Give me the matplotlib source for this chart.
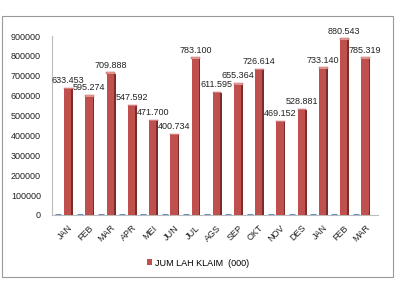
import matplotlib.pyplot as plt
from matplotlib.patches import Rectangle

# monthly claim totals (in thousands)
months = ['JAN', 'FEB', 'MAR', 'APR', 'MEI', 'JUN', 'JUL', 'AGS', 'SEP',
          'OKT', 'NOV', 'DES', 'JAN', 'FEB', 'MAR']
klaim = [633453, 595274, 709888, 547592, 471700, 400734, 783100, 611595,
         655364, 726614, 469152, 528881, 733140, 880543, 785319]
# second (empty) series that only shows as flat blue marks on the floor
kosong = [0] * len(months)

yticks = list(range(0, 900001, 100000))

plt.rcParams['font.family'] = ['Liberation Sans', 'DejaVu Sans']

fig = plt.figure(figsize=(3.96, 2.81), dpi=100)
ax = fig.add_axes([52 / 396, 1 - 215 / 281, 326 / 396, 179 / 281])

x = list(range(len(months)))
red = '#C0504D'
dark = '#7E2C2A'

ax.bar(x, klaim, width=0.36, color=red, zorder=3)
# darker side face for the 3D look
ax.bar([i + 0.2 for i in x], klaim, width=0.08, color=dark, zorder=3)
# light top cap
ax.bar([i + 0.02 for i in x], [v * 0.012 for v in klaim], bottom=klaim,
       width=0.42, color='#E8A7A5', edgecolor='#B04744', linewidth=0.3, zorder=4)
ax.plot([i - 0.45 for i in x], kosong, ls='none', marker='_', ms=5, mew=2,
        color='#4F81BD', zorder=2)

for i, v in enumerate(klaim):
    lbl = f'{v:,}'.replace(',', '.')
    ax.annotate(lbl, (i, v), xytext=(0, 3), textcoords='offset points',
                ha='center', va='bottom', fontsize=6.5, color='#222222',
                annotation_clip=False, zorder=5)

ax.set_xlim(-0.75, 14.6)
ax.set_ylim(0, 900000)
ax.set_yticks(yticks)
ax.set_yticklabels([str(t) for t in yticks], fontsize=6.5, color='#222222')
ax.set_xticks(x)
ax.set_xticklabels(months, rotation=45, ha='right', rotation_mode='anchor',
                   fontsize=6.5, color='#222222')
ax.tick_params(length=0, pad=8)
ax.tick_params(axis='x', pad=6)

for s in ['top', 'right']:
    ax.spines[s].set_visible(False)
ax.spines['left'].set_color('#BBBBBB')
ax.spines['bottom'].set_color('#BBBBBB')

h = ax.bar([0], [0], color=red, label='JUM LAH KLAIM  (000)')
ax.legend(handles=[h], loc='center', bbox_to_anchor=(198 / 396, 1 - 263 / 281),
          bbox_transform=fig.transFigure, frameon=False, fontsize=6.5,
          handlelength=0.6, handleheight=0.6, handletextpad=0.3)

fig.patches.append(Rectangle((2 / 396, 4 / 281), 391 / 396, 261 / 281,
                             transform=fig.transFigure, fill=False,
                             edgecolor='#999999', linewidth=0.8))

fig.savefig('out.png', dpi=100)
